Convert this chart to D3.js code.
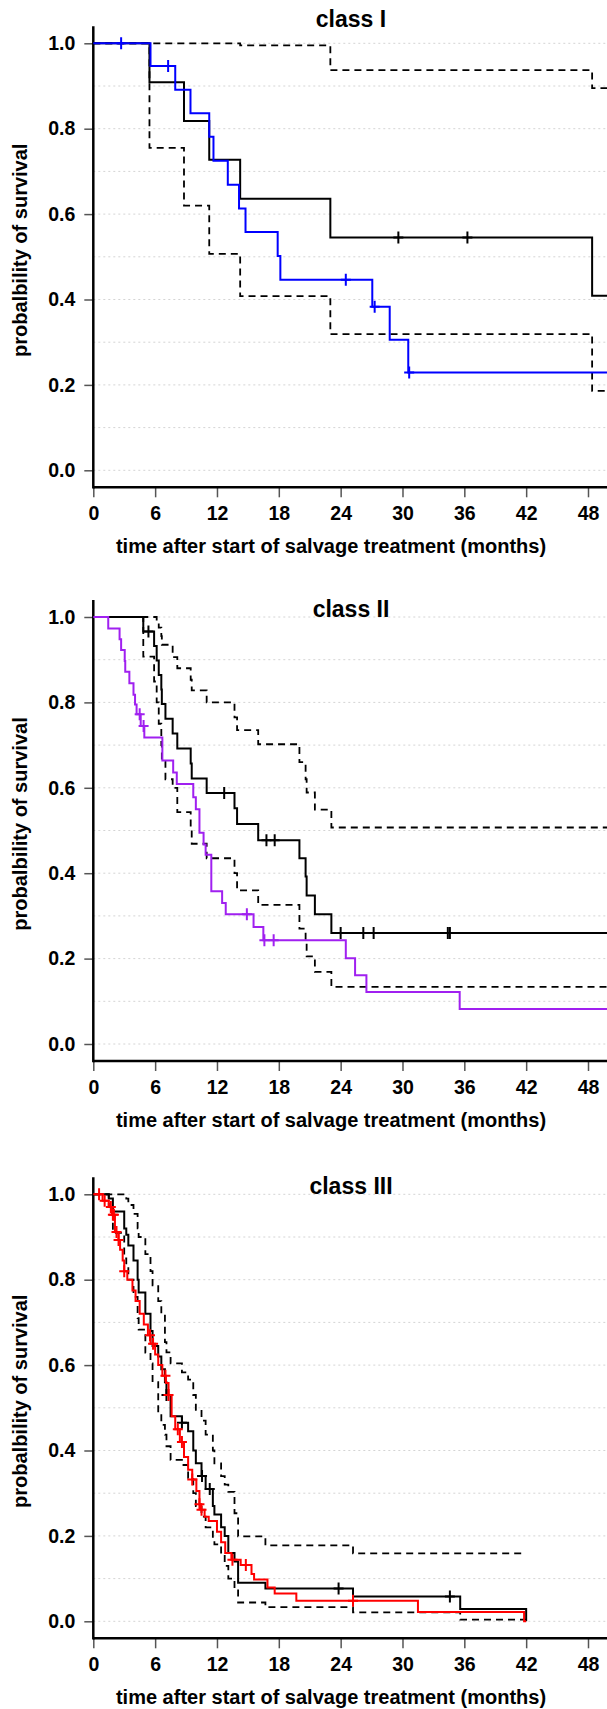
<!DOCTYPE html>
<html>
<head>
<meta charset="utf-8">
<script src="https://cdnjs.cloudflare.com/ajax/libs/d3/7.8.5/d3.min.js"></script>
<style>
  body { margin: 0; background: #fff; }
  text { font-family: "Liberation Sans", Arial, Helvetica, sans-serif; font-weight: bold; fill: #000; }
</style>
</head>
<body>
<script>
// Kaplan-Meier curves (black, with 95% CI dashed) and model curve (colour) per class

// Axis ticks
let xTicks = [0, 6, 12, 18, 24, 30, 36, 42, 48];
let yTicks = [0, 0.2, 0.4, 0.6, 0.8, 1.0];
let gridValues = [0, 0.1, 0.2, 0.3, 0.4, 0.5, 0.6, 0.7, 0.8, 0.9, 1.0];
let titles = ["class I", "class II", "class III"];

// ---- class I ----
let c1Time   = [0, 5.45, 8.8, 11.25, 14.25, 23.0, 48.4];
let c1Surv   = [1, 0.909, 0.818, 0.727, 0.636, 0.545, 0.409];
let c1Lower  = [1, 0.755, 0.620, 0.507, 0.408, 0.319, 0.186];
let c1Upper  = [1, 1, 1, 1, 0.995, 0.937, 0.895];
let c1Censor = [29.6, 36.3];
let c1ModelTime   = [0, 5.55, 7.95, 9.43, 11.25, 11.66, 13.05, 14.14, 14.77, 17.89, 18.15, 27.07, 28.76, 30.56];
let c1ModelSurv   = [1, 0.947, 0.891, 0.836, 0.781, 0.725, 0.669, 0.613, 0.558, 0.502, 0.446, 0.383, 0.306, 0.229];
let c1ModelCensor = [2.7, 7.26, 24.5, 27.3, 30.65];
let c1End = 52;

// ---- class II ----
let c2Time   = [0, 4.85, 5.9, 6.15, 6.35, 6.6, 6.65, 7.0, 7.7, 8.15, 9.45, 9.55, 11.0, 13.7, 13.95, 16.0, 20.0, 20.6, 20.7, 21.5, 23.1];
let c2Surv   = [1, 0.966, 0.932, 0.898, 0.864, 0.830, 0.796, 0.762, 0.727, 0.692, 0.657, 0.622, 0.588, 0.552, 0.515, 0.477, 0.435, 0.392, 0.348, 0.304, 0.260];
let c2Lower  = [1, 0.907, 0.849, 0.80, 0.75, 0.70, 0.662, 0.62, 0.60, 0.543, 0.50, 0.469, 0.435, 0.40, 0.36, 0.326, 0.27, 0.235, 0.205, 0.169, 0.134];
let c2Upper  = [1, 1, 1, 0.99, 0.975, 0.955, 0.935, 0.935, 0.906, 0.88, 0.853, 0.828, 0.80, 0.765, 0.735, 0.702, 0.66, 0.62, 0.589, 0.549, 0.507];
let c2Censor = [5.35, 12.7, 16.8, 17.6, 24.0, 26.2, 27.2, 34.4, 34.6];
let c2ModelTime   = [0, 1.45, 2.55, 2.7, 3.05, 3.1, 3.5, 3.9, 4.05, 4.2, 4.6, 4.95, 6.7, 7.75, 8.1, 9.7, 9.95, 10.3, 10.7, 10.9, 11.45, 12.5, 12.85, 15.55, 16.5, 24.5, 25.4, 26.5, 35.55];
let c2ModelSurv   = [1, 0.973, 0.948, 0.923, 0.897, 0.872, 0.845, 0.818, 0.795, 0.772, 0.745, 0.718, 0.664, 0.636, 0.609, 0.578, 0.550, 0.495, 0.467, 0.443, 0.358, 0.330, 0.304, 0.274, 0.243, 0.201, 0.161, 0.122, 0.082];
let c2ModelCensor = [4.5, 4.88, 14.9, 16.6, 17.5];
let c2End = 52;

// ---- class III ----
let c3Time   = [0, 1.5, 1.9, 3.0, 3.2, 3.4, 3.9, 4.3, 4.4, 5.05, 5.55, 5.75, 6.3, 6.6, 6.95, 7.1, 7.5, 8.6, 9.2, 9.7, 9.95, 10.5, 10.9, 11.6, 11.75, 12.4, 12.75, 13.1, 13.7, 14.05, 16.7, 25.2, 35.6, 42.0];
let c3Surv   = [1, 0.99, 0.96, 0.92, 0.905, 0.88, 0.845, 0.80, 0.77, 0.72, 0.68, 0.645, 0.62, 0.59, 0.56, 0.53, 0.48, 0.465, 0.445, 0.40, 0.37, 0.34, 0.31, 0.27, 0.25, 0.22, 0.20, 0.16, 0.14, 0.09, 0.077, 0.058, 0.029, 0.0];
let c3Lower  = [1, 0.97, 0.91, 0.85, 0.83, 0.80, 0.76, 0.71, 0.683, 0.629, 0.604, 0.56, 0.487, 0.46, 0.437, 0.41, 0.378, 0.366, 0.336, 0.30, 0.27, 0.245, 0.22, 0.195, 0.18, 0.161, 0.13, 0.10, 0.075, 0.044, 0.033, 0.021, 0.004, 0.004];
let c3Upper  = [1, 1, 1, 1, 0.99, 0.975, 0.954, 0.92, 0.90, 0.86, 0.82, 0.787, 0.75, 0.72, 0.654, 0.63, 0.604, 0.583, 0.566, 0.53, 0.495, 0.47, 0.437, 0.40, 0.37, 0.34, 0.32, 0.303, 0.253, 0.199, 0.178, 0.159, 0.159, 0.159];
let c3Censor = [7.1, 8.6, 10.55, 11.3, 23.8, 34.6];
let c3ModelTime   = [0, 0.9, 1.5, 1.8, 2.1, 2.45, 2.6, 2.85, 3.0, 3.3, 3.8, 4.1, 4.5, 4.9, 5.3, 5.55, 6.0, 6.3, 6.7, 7.05, 7.3, 7.6, 7.95, 8.4, 8.8, 9.2, 9.6, 10.0, 10.3, 10.45, 10.8, 11.2, 12.0, 12.4, 12.8, 13.4, 14.3, 15.35, 15.6, 16.9, 17.6, 19.7, 31.5, 41.8];
let c3ModelSurv   = [1, 0.985, 0.97, 0.952, 0.912, 0.893, 0.87, 0.845, 0.82, 0.80, 0.775, 0.75, 0.72, 0.695, 0.67, 0.65, 0.625, 0.60, 0.575, 0.558, 0.53, 0.48, 0.45, 0.42, 0.385, 0.355, 0.332, 0.305, 0.274, 0.261, 0.245, 0.235, 0.21, 0.185, 0.16, 0.144, 0.132, 0.111, 0.098, 0.079, 0.065, 0.048, 0.022, 0.0];
let c3ModelCensor = [0.56, 1.1, 1.7, 1.9, 2.0, 2.25, 2.45, 3.0, 5.5, 5.8, 7.0, 7.3, 8.2, 8.6, 9.6, 10.3, 10.5, 13.5, 14.8, 25.2];
let c3End = 42;

// Set up the svg
let svgWidth = 607;
let svgHeight = 1709;

let svg = d3.select("body")
            .append("svg")
            .attr("width", svgWidth)
            .attr("height", svgHeight);

let axisX = 93.3;
let plotH = 427;

let xScale = d3.scaleLinear()
               .domain([0, 48])
               .range([axisX, 588]);

let panels = [
    { title: titles[0], top: 43.3,  titleY: 27,   time: c1Time, surv: c1Surv, lower: c1Lower, upper: c1Upper, censor: c1Censor,
      mTime: c1ModelTime, mSurv: c1ModelSurv, mCensor: c1ModelCensor, end: c1End, color: "#0000ff" },
    { title: titles[1], top: 617,   titleY: 617,  time: c2Time, surv: c2Surv, lower: c2Lower, upper: c2Upper, censor: c2Censor,
      mTime: c2ModelTime, mSurv: c2ModelSurv, mCensor: c2ModelCensor, end: c2End, color: "#a020f0" },
    { title: titles[2], top: 1194.3, titleY: 1194, time: c3Time, surv: c3Surv, lower: c3Lower, upper: c3Upper, censor: c3Censor,
      mTime: c3ModelTime, mSurv: c3ModelSurv, mCensor: c3ModelCensor, end: c3End, color: "#ff0000" }
];

// step value of a survival curve at time t
function stepAt(times, vals, t) {
    let i = d3.bisectRight(times, t) - 1;
    return vals[Math.max(i, 0)];
}

// pairs for the step line, carried on to the end of follow-up
function stepPoints(times, vals, end) {
    let pts = times.map((t, i) => [t, vals[i]]);
    let last = pts[pts.length - 1];
    if (last[0] < end) pts.push([end, last[1]]);
    return pts;
}

function drawPanel(p) {
    let g = svg.append("g");
    let yScale = d3.scaleLinear()
                   .domain([0, 1])
                   .range([p.top + plotH, p.top]);
    let axisY = p.top + plotH + 17;

    // dotted grid
    g.selectAll("line.grid")
     .data(gridValues)
     .enter()
     .append("line")
     .attr("class", "grid")
     .attr("x1", axisX)
     .attr("x2", svgWidth)
     .attr("y1", d => yScale(d))
     .attr("y2", d => yScale(d))
     .attr("stroke", "#d4d4d4")
     .attr("stroke-width", 1)
     .attr("stroke-dasharray", "2,3");

    // y axis
    let leftAxis = d3.axisLeft(yScale)
                     .tickValues(yTicks)
                     .tickFormat(d3.format(".1f"))
                     .tickSize(9)
                     .tickPadding(9);
    let ya = g.append("g")
              .attr("transform", `translate(${axisX}, 0)`)
              .call(leftAxis);
    ya.select(".domain").remove();
    ya.selectAll(".tick line").attr("stroke", "#555").attr("stroke-width", 1.5);
    ya.selectAll("text").attr("font-size", "19.5px");

    // x axis
    let bottomAxis = d3.axisBottom(xScale)
                       .tickValues(xTicks)
                       .tickSize(10)
                       .tickPadding(9);
    let xa = g.append("g")
              .attr("transform", `translate(0, ${axisY})`)
              .call(bottomAxis);
    xa.select(".domain").remove();
    xa.selectAll(".tick line").attr("stroke", "#555").attr("stroke-width", 1.5);
    xa.selectAll("text").attr("font-size", "19.5px");

    // axis lines
    g.append("line")
     .attr("x1", axisX).attr("x2", axisX)
     .attr("y1", p.top - 17).attr("y2", axisY + 1.2)
     .attr("stroke", "#000").attr("stroke-width", 2.5);
    g.append("line")
     .attr("x1", axisX).attr("x2", svgWidth)
     .attr("y1", axisY).attr("y2", axisY)
     .attr("stroke", "#000").attr("stroke-width", 2.5);

    let line = d3.line()
                 .x(d => xScale(d[0]))
                 .y(d => yScale(d[1]))
                 .curve(d3.curveStepAfter);

    // confidence band
    [p.lower, p.upper].forEach(ci => {
        g.append("path")
         .attr("d", line(stepPoints(p.time, ci, p.end)))
         .attr("fill", "none")
         .attr("stroke", "#000")
         .attr("stroke-width", 1.8)
         .attr("stroke-dasharray", "7,5");
    });

    // Kaplan-Meier
    g.append("path")
     .attr("d", line(stepPoints(p.time, p.surv, p.end)))
     .attr("fill", "none")
     .attr("stroke", "#000")
     .attr("stroke-width", 2);

    // model curve
    g.append("path")
     .attr("d", line(stepPoints(p.mTime, p.mSurv, p.end)))
     .attr("fill", "none")
     .attr("stroke", p.color)
     .attr("stroke-width", 2);

    // censor marks
    function marks(times, vals, censor, color) {
        g.selectAll(null)
         .data(censor)
         .enter()
         .append("path")
         .attr("d", t => {
             let cx = xScale(t), cy = yScale(stepAt(times, vals, t));
             return `M${cx - 5},${cy}h10M${cx},${cy - 6}v12`;
         })
         .attr("stroke", color)
         .attr("stroke-width", 2)
         .attr("fill", "none");
    }
    marks(p.time, p.surv, p.censor, "#000");
    marks(p.mTime, p.mSurv, p.mCensor, p.color);

    // texts
    g.append("text")
     .attr("x", 351)
     .attr("y", p.titleY)
     .attr("text-anchor", "middle")
     .attr("font-size", "23px")
     .text(p.title);

    g.append("text")
     .attr("x", 331)
     .attr("y", axisY + 66)
     .attr("text-anchor", "middle")
     .attr("font-size", "20px")
     .text("time after start of salvage treatment (months)");

    g.append("text")
     .attr("transform", `translate(27, ${p.top + 207}) rotate(-90)`)
     .attr("text-anchor", "middle")
     .attr("font-size", "20px")
     .text("probalbility of survival");
}

panels.forEach(drawPanel);
</script>
</body>
</html>
